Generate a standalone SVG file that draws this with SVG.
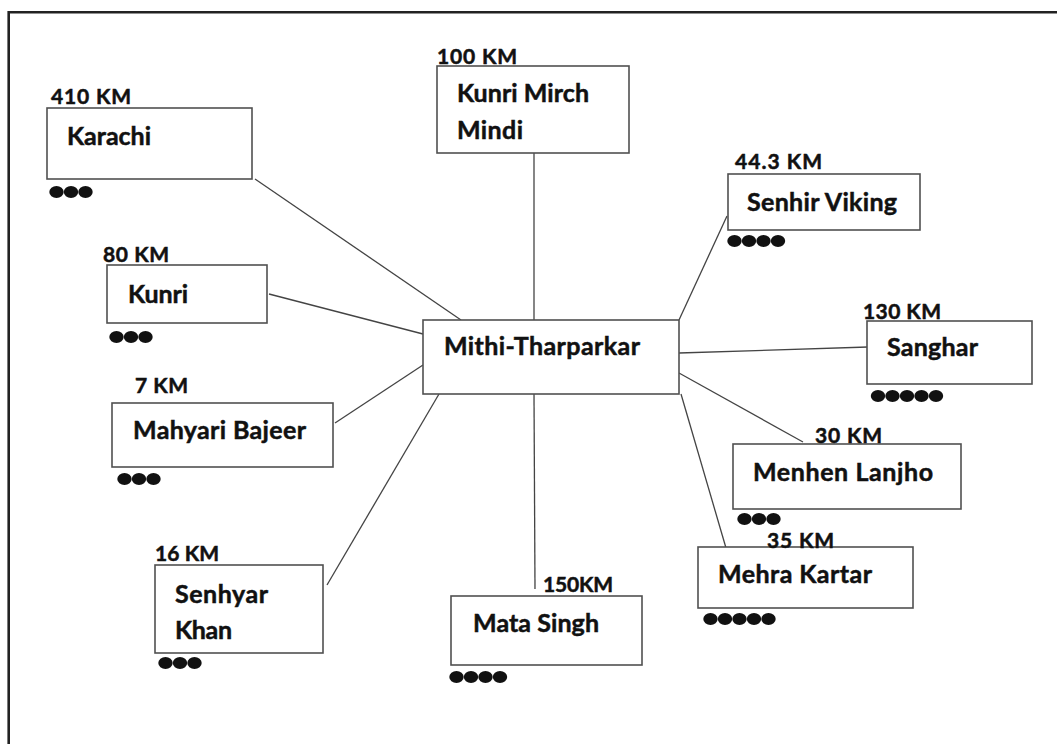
<svg xmlns="http://www.w3.org/2000/svg" width="1057" height="744" viewBox="0 0 1057 744">
<style>
.box{fill:#fff;stroke:#505050;stroke-width:1.6}
.name{font-family:Lato,"Open Sans","Liberation Sans",sans-serif;font-weight:bold;font-size:25px;fill:#111;stroke:#111;stroke-width:0.5}
.km{font-family:Lato,"Open Sans","Liberation Sans",sans-serif;font-weight:bold;font-size:21px;fill:#111;stroke:#111;stroke-width:0.5}
.dot{fill:#111}
#connectors line{stroke:#444;stroke-width:1.3}
</style>
<rect x="0" y="0" width="1057" height="744" fill="#fff"/>
<path d="M8.7 744 V12.2 H1057" fill="none" stroke="#222" stroke-width="2.6"/>
<g id="connectors">
<line x1="255" y1="179" x2="461" y2="320"/>
<line x1="534" y1="153" x2="534" y2="320"/>
<line x1="727" y1="216" x2="679" y2="320"/>
<line x1="269" y1="294" x2="423" y2="334"/>
<line x1="679" y1="353" x2="868" y2="347"/>
<line x1="335" y1="423" x2="423" y2="365"/>
<line x1="327" y1="585" x2="439" y2="394"/>
<line x1="534" y1="394" x2="535" y2="589"/>
<line x1="679" y1="373" x2="803" y2="442"/>
<line x1="681" y1="394" x2="726" y2="548"/>
</g>
<g id="mithi">
<rect class="box" x="423" y="320" width="256" height="74"/>
<text class="name" x="444" y="355" textLength="196">Mithi-Tharparkar</text>
</g>
<g id="karachi">
<rect class="box" x="47" y="108" width="205" height="71"/>
<text class="km" x="51" y="104" textLength="80">410 KM</text>
<text class="name" x="67" y="145" textLength="84">Karachi</text>
<ellipse class="dot" cx="56.5" cy="192" rx="7.2" ry="6"/><ellipse class="dot" cx="71" cy="192" rx="7.2" ry="6"/><ellipse class="dot" cx="85.5" cy="192" rx="7.2" ry="6"/>
</g>
<g id="kunri-mirch-mindi">
<rect class="box" x="437" y="66" width="192" height="87"/>
<text class="km" x="437" y="64" textLength="80">100 KM</text>
<text class="name" x="457" y="102" textLength="132">Kunri Mirch</text>
<text class="name" x="457" y="139" textLength="66">Mindi</text>
</g>
<g id="senhir-viking">
<rect class="box" x="728" y="174" width="192" height="56"/>
<text class="km" x="735" y="169" textLength="87">44.3 KM</text>
<text class="name" x="747" y="211" textLength="150">Senhir Viking</text>
<ellipse class="dot" cx="734.5" cy="241" rx="7.2" ry="6"/><ellipse class="dot" cx="749" cy="241" rx="7.2" ry="6"/><ellipse class="dot" cx="763.5" cy="241" rx="7.2" ry="6"/><ellipse class="dot" cx="778" cy="241" rx="7.2" ry="6"/>
</g>
<g id="sanghar">
<rect class="box" x="867" y="321" width="165" height="63"/>
<text class="km" x="863" y="319" textLength="78">130 KM</text>
<text class="name" x="887" y="356" textLength="91">Sanghar</text>
<ellipse class="dot" cx="878" cy="396" rx="7.2" ry="6"/><ellipse class="dot" cx="892.5" cy="396" rx="7.2" ry="6"/><ellipse class="dot" cx="907" cy="396" rx="7.2" ry="6"/><ellipse class="dot" cx="921.5" cy="396" rx="7.2" ry="6"/><ellipse class="dot" cx="936" cy="396" rx="7.2" ry="6"/>
</g>
<g id="kunri">
<rect class="box" x="107" y="265" width="160" height="58"/>
<text class="km" x="103" y="262" textLength="66">80 KM</text>
<text class="name" x="128" y="303" textLength="60">Kunri</text>
<ellipse class="dot" cx="116.5" cy="337" rx="7.2" ry="6"/><ellipse class="dot" cx="131" cy="337" rx="7.2" ry="6"/><ellipse class="dot" cx="145.5" cy="337" rx="7.2" ry="6"/>
</g>
<g id="mahyari-bajeer">
<rect class="box" x="112" y="403" width="221" height="64"/>
<text class="km" x="135" y="393" textLength="53">7 KM</text>
<text class="name" x="133" y="439" textLength="173">Mahyari Bajeer</text>
<ellipse class="dot" cx="124.5" cy="479" rx="7.2" ry="6"/><ellipse class="dot" cx="139" cy="479" rx="7.2" ry="6"/><ellipse class="dot" cx="153.5" cy="479" rx="7.2" ry="6"/>
</g>
<g id="senhyar-khan">
<rect class="box" x="155" y="565" width="168" height="88"/>
<text class="km" x="155" y="561" textLength="64">16 KM</text>
<text class="name" x="175" y="603" textLength="93">Senhyar</text>
<text class="name" x="175" y="639" textLength="57">Khan</text>
<ellipse class="dot" cx="165.5" cy="663" rx="7.2" ry="6"/><ellipse class="dot" cx="180" cy="663" rx="7.2" ry="6"/><ellipse class="dot" cx="194.5" cy="663" rx="7.2" ry="6"/>
</g>
<g id="mata-singh">
<rect class="box" x="451" y="596" width="191" height="69"/>
<text class="km" x="543" y="592" textLength="70">150KM</text>
<text class="name" x="473" y="632" textLength="126">Mata Singh</text>
<ellipse class="dot" cx="456.5" cy="677" rx="7.2" ry="6"/><ellipse class="dot" cx="471" cy="677" rx="7.2" ry="6"/><ellipse class="dot" cx="485.5" cy="677" rx="7.2" ry="6"/><ellipse class="dot" cx="500" cy="677" rx="7.2" ry="6"/>
</g>
<g id="menhen-lanjho">
<rect class="box" x="733" y="444" width="228" height="65"/>
<text class="km" x="815" y="443" textLength="67">30 KM</text>
<text class="name" x="753" y="481" textLength="180">Menhen Lanjho</text>
<ellipse class="dot" cx="744.5" cy="519" rx="7.2" ry="6"/><ellipse class="dot" cx="759" cy="519" rx="7.2" ry="6"/><ellipse class="dot" cx="773.5" cy="519" rx="7.2" ry="6"/>
</g>
<g id="mehra-kartar">
<rect class="box" x="698" y="547" width="215" height="61"/>
<text class="km" x="767" y="548" textLength="67">35 KM</text>
<text class="name" x="718" y="583" textLength="154">Mehra Kartar</text>
<ellipse class="dot" cx="710.5" cy="619" rx="7.2" ry="6"/><ellipse class="dot" cx="725" cy="619" rx="7.2" ry="6"/><ellipse class="dot" cx="739.5" cy="619" rx="7.2" ry="6"/><ellipse class="dot" cx="754" cy="619" rx="7.2" ry="6"/><ellipse class="dot" cx="768.5" cy="619" rx="7.2" ry="6"/>
</g>
</svg>
